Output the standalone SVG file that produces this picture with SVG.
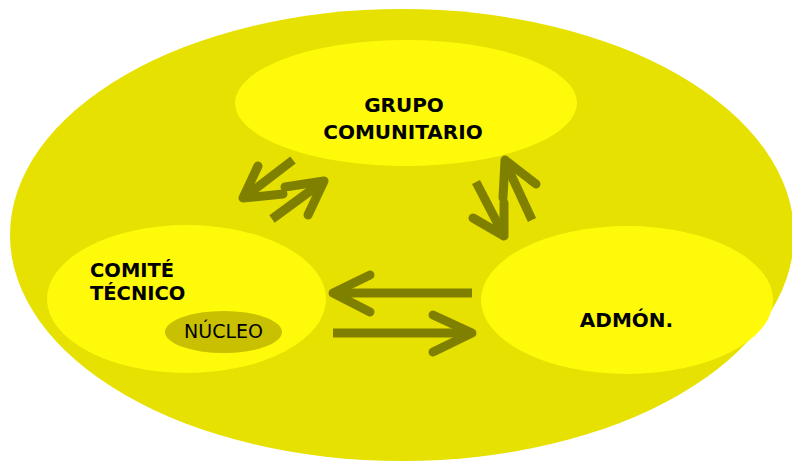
<svg xmlns="http://www.w3.org/2000/svg" width="792" height="461" viewBox="0 0 792 461">
<style>
.bg{fill:#E6E100}
.node{fill:#FFFA0A}
.core{fill:#C8C000}
.lbl{font-family:"DejaVu Sans",Verdana,sans-serif;font-size:20px;font-weight:bold;fill:#000}
.lbl2{font-family:"DejaVu Sans",Verdana,sans-serif;font-size:19.5px;font-weight:bold;fill:#000}
.core-lbl{font-family:"DejaVu Sans",Verdana,sans-serif;font-size:19px;fill:#000}
.shaft{fill:none;stroke:#808000;stroke-width:9;stroke-linecap:butt}
.head{fill:none;stroke:#808000;stroke-width:9;stroke-linecap:round;stroke-linejoin:round}
</style>
<rect width="792" height="461" fill="#FFFFFF"/>
<g id="outer">
<ellipse class="bg" cx="402" cy="235" rx="392" ry="226"/>
</g>
<g id="grupo-comunitario">
<ellipse class="node" cx="406" cy="103" rx="171" ry="63"/>
<text class="lbl" x="404" y="112" text-anchor="middle">GRUPO</text>
<text class="lbl" x="403" y="139" text-anchor="middle">COMUNITARIO</text>
</g>
<g id="comite-tecnico">
<ellipse class="node" cx="186.5" cy="299" rx="139.5" ry="74"/>
<text class="lbl2" x="90" y="277">COMITÉ</text>
<text class="lbl2" x="90" y="300">TÉCNICO</text>
</g>
<g id="nucleo">
<ellipse class="core" cx="223.5" cy="332" rx="58.5" ry="21"/>
<text class="core-lbl" x="223.5" y="338" text-anchor="middle">NÚCLEO</text>
</g>
<g id="admon">
<ellipse class="node" cx="627" cy="300" rx="146" ry="74"/>
<text class="lbl" x="626.5" y="327" text-anchor="middle">ADMÓN.</text>
</g>
<g id="connectors">
<path class="shaft" d="M293,160 L246,196"/>
<path class="head" d="M258,166 L243,198 L283,194"/>
<path class="shaft" d="M272,219 L321,183"/>
<path class="head" d="M285,187 L324,181 L308,215"/>
<path class="shaft" d="M476,182 L502,232"/>
<path class="head" d="M473,218 L504,236 L504,203"/>
<path class="shaft" d="M532,220 L506,164"/>
<path class="head" d="M503,198 L505,160 L536,184"/>
<path class="shaft" d="M472,293 L337,293"/>
<path class="head" d="M370,275 L333,293 L370,312"/>
<path class="shaft" d="M333,333 L468,333"/>
<path class="head" d="M433,315 L472,333 L433,352"/>
</g>
</svg>
